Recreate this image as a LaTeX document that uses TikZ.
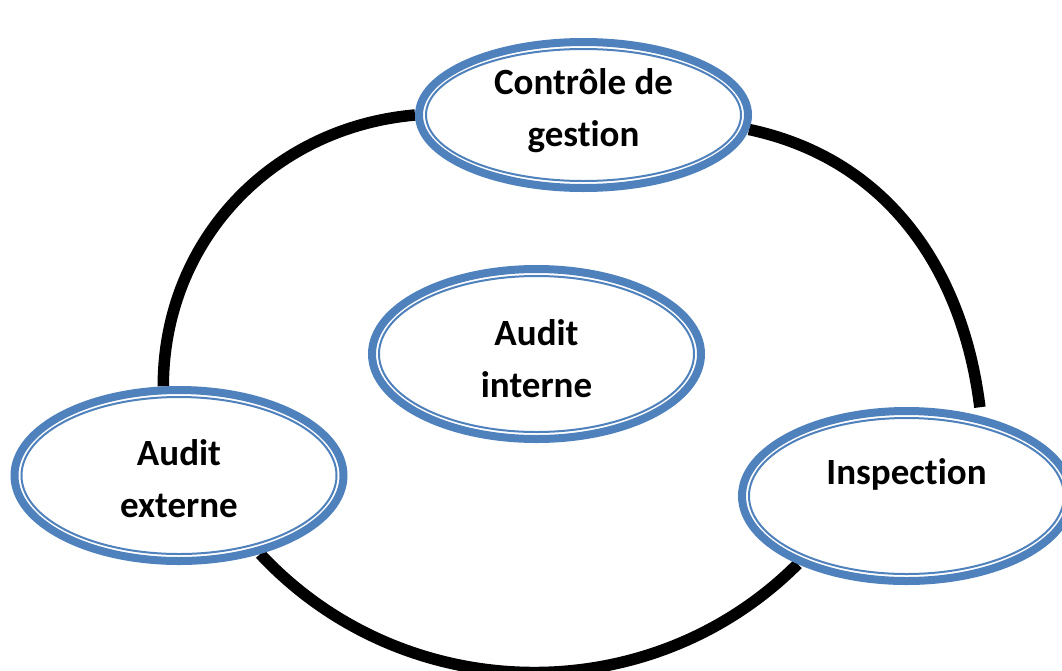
\documentclass[tikz,border=0pt]{standalone}
\usepackage{fontspec}
\setmainfont{Carlito}[Ligatures=NoCommon]
\usetikzlibrary{shapes.geometric,backgrounds}
\definecolor{accent}{HTML}{4F81BD}
\begin{document}
\begin{tikzpicture}[x=1pt,y=1pt,
  oval/.style={ellipse, draw=accent, line width=8pt, fill=white, inner sep=0pt,
    align=center, font=\fontsize{37}{52}\selectfont\bfseries},
  innerring/.style={draw=accent, line width=2pt},
  ring/.style={draw=black, line width=11.5pt}]
\useasboundingbox (0,0) rectangle (1062,-670);
\node[oval, minimum width=329pt, minimum height=146pt, text height=71pt, text depth=8pt] (ctrl) at (583.5,-115) {Contrôle de\\gestion};
\draw[innerring] (ctrl.center) ellipse [x radius=157.5pt, y radius=66pt];
\node[oval, minimum width=329pt, minimum height=170pt, text height=94pt, text depth=8pt] (int) at (536.5,-354) {Audit\\interne};
\draw[innerring] (int.center) ellipse [x radius=157.5pt, y radius=78pt];
\node[oval, minimum width=329pt, minimum height=171pt, text height=91pt, text depth=8pt] (ext) at (179,-475.5) {Audit\\externe};
\draw[innerring] (ext.center) ellipse [x radius=157.5pt, y radius=78.5pt];
\node[oval, minimum width=329pt, minimum height=170pt, text height=26pt, text depth=50pt] (insp) at (906.5,-496) {Inspection};
\draw[innerring] (insp.center) ellipse [x radius=157.5pt, y radius=78pt];
\begin{scope}[on background layer]
\draw[ring] (ctrl.west) to[out=185, in=90] (ext.100);
\draw[ring, shorten >=9pt] (ctrl.-5) to[out=-12, in=97] (insp.47);
\draw[ring] (ext.-44) to[out=-47, in=-135] (insp.212);
\end{scope}
\end{tikzpicture}
\end{document}
